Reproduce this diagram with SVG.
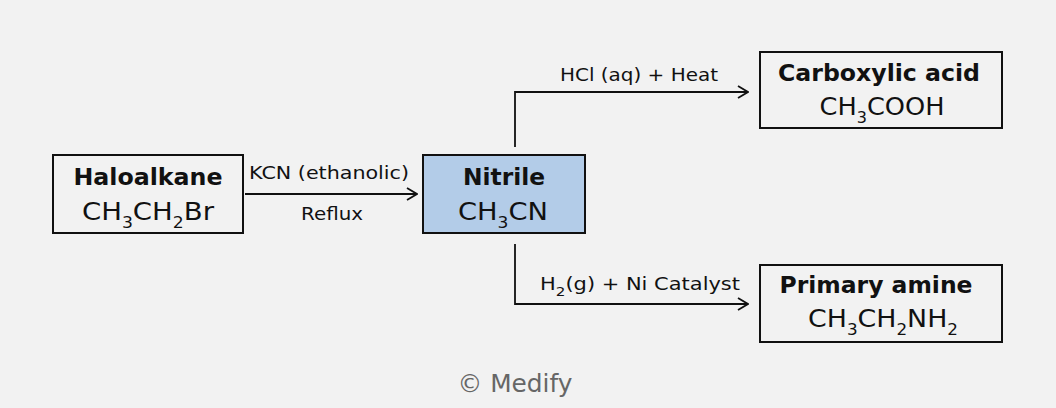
<svg xmlns="http://www.w3.org/2000/svg" width="1056" height="408" viewBox="0 0 1056 408">
<defs>
<marker id="arr" viewBox="0 0 12 14" refX="11" refY="7" markerWidth="12" markerHeight="14" markerUnits="userSpaceOnUse" orient="auto">
<path d="M1,1 L11,7 L1,13" fill="none" stroke="#111" stroke-width="1.8"/>
</marker>
<style>
.box{fill:#f2f2f2;stroke:#111;stroke-width:2}
.hl{fill:#b3cce8}
.t{font-family:"DejaVu Sans","Liberation Sans",sans-serif;fill:#111;text-anchor:middle}
.b{font-weight:bold;font-size:23px}
.f{font-size:24px}
.s{font-size:15px}
.l{font-size:18px}
.ls{font-size:13px}
.c{fill:none;stroke:#111;stroke-width:1.8}
</style>
</defs>
<rect width="1056" height="408" fill="#f2f2f2"/>
<g id="connectors">
<line class="c" x1="245" y1="194" x2="417" y2="194" marker-end="url(#arr)"/>
<path class="c" d="M515,147 V92 H748" marker-end="url(#arr)"/>
<path class="c" d="M515,244 V304 H748" marker-end="url(#arr)"/>
<text class="t l" x="329" y="179" textLength="160" lengthAdjust="spacingAndGlyphs">KCN (ethanolic)</text>
<text class="t l" x="332" y="220" textLength="62" lengthAdjust="spacingAndGlyphs">Reflux</text>
<text class="t l" x="639" y="81" textLength="158" lengthAdjust="spacingAndGlyphs">HCl (aq) + Heat</text>
<text class="t l" x="640" y="290" textLength="200" lengthAdjust="spacingAndGlyphs">H<tspan class="ls" dy="6">2</tspan><tspan dy="-6">(g) + Ni Catalyst</tspan></text>
</g>
<g id="haloalkane">
<rect class="box" x="53" y="155" width="190" height="78"/>
<text class="t b" x="148" y="185" textLength="149" lengthAdjust="spacingAndGlyphs">Haloalkane</text>
<text class="t f" x="148" y="220" textLength="132" lengthAdjust="spacingAndGlyphs">CH<tspan class="s" dy="8">3</tspan><tspan dy="-8">CH</tspan><tspan class="s" dy="8">2</tspan><tspan dy="-8">Br</tspan></text>
</g>
<g id="nitrile">
<rect class="box hl" x="423" y="155" width="162" height="78"/>
<text class="t b" x="504" y="185" textLength="82" lengthAdjust="spacingAndGlyphs">Nitrile</text>
<text class="t f" x="503" y="220" textLength="90" lengthAdjust="spacingAndGlyphs">CH<tspan class="s" dy="8">3</tspan><tspan dy="-8">CN</tspan></text>
</g>
<g id="carboxylic">
<rect class="box" x="760" y="52" width="242" height="76"/>
<text class="t b" x="879" y="81" textLength="202" lengthAdjust="spacingAndGlyphs">Carboxylic acid</text>
<text class="t f" x="882" y="115" textLength="125" lengthAdjust="spacingAndGlyphs">CH<tspan class="s" dy="8">3</tspan><tspan dy="-8">COOH</tspan></text>
</g>
<g id="amine">
<rect class="box" x="760" y="265" width="242" height="77"/>
<text class="t b" x="876" y="293" textLength="193" lengthAdjust="spacingAndGlyphs">Primary amine</text>
<text class="t f" x="883" y="327" textLength="150" lengthAdjust="spacingAndGlyphs">CH<tspan class="s" dy="8">3</tspan><tspan dy="-8">CH</tspan><tspan class="s" dy="8">2</tspan><tspan dy="-8">NH</tspan><tspan class="s" dy="8">2</tspan></text>
</g>
<text class="t" x="515" y="392" textLength="115" lengthAdjust="spacingAndGlyphs" style="font-size:24px;fill:#666">© Medify</text>
</svg>
